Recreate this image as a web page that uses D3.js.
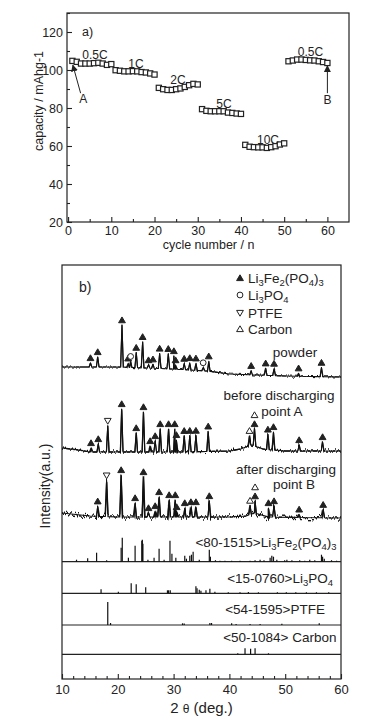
<!DOCTYPE html>
<html>
<head>
<meta charset="utf-8">
<script src="https://cdn.jsdelivr.net/npm/d3@7"></script>
<style>
  body { margin: 0; background: #fff; }
  svg { display: block; font-family: "Liberation Sans", Arial, sans-serif; }
</style>
</head>
<body>
<svg id="fig" width="377" height="726"></svg>
<script>
// ---- panel a) rate capability, capacity per cycle ----
const rateLabels = ['0.5C', '1C', '2C', '5C', '10C', '0.5C'];
const cap05a = [104.8, 104.3, 103.4, 103.4, 103.4, 103.6, 103.8, 103.4, 102.7, 103.1];
const cap1 = [99.9, 99.6, 99.3, 99.3, 99.4, 99.3, 98.9, 98.7, 98.2, 97.6];
const cap2 = [90.6, 89.9, 89.5, 89.5, 89.9, 90.3, 91.1, 92.0, 92.7, 92.4];
const cap5 = [79.4, 78.5, 78.3, 78.3, 78.3, 78.3, 77.6, 77.4, 77.1, 76.9];
const cap10 = [60.6, 59.6, 59.4, 59.3, 59.3, 59.0, 59.4, 59.9, 60.8, 61.4];
const cap05b = [104.6, 105.0, 105.5, 105.5, 105.3, 105.1, 105.0, 104.6, 104.2, 103.7];
const xTicksA = [0, 10, 20, 30, 40, 50, 60];
const yTicksA = [20, 40, 60, 80, 100, 120];

// ---- panel b) XRD ----
// baselines [2theta, intensity a.u.], peaks [2theta, height above baseline, marker]
// marker: T filled up-triangle, C circle, D open down-triangle, U open up-triangle, TU stacked
const powderBase = [[10, 312], [20, 312], [30, 310], [36, 308], [40, 305], [50, 303], [60, 302]];
const powderPeaks = [
  [15.1, 4, 'T'], [16.4, 10, 'T'], [20.75, 42, 'T'], [21.85, 4, 'T'], [22.3, 6, 'C'],
  [23.3, 15, 'T'], [24.45, 26, 'T'], [25.5, 3, 'T'], [26.3, 4, 'T'], [27.5, 15, 'T'],
  [29.05, 15, 'T'], [30.05, 13, 'T'], [30.35, 4, 'T'], [31.9, 6, 'T'], [32.9, 7, 'T'],
  [34.0, 7, 'T'], [35.3, 3, 'C'], [36.3, 10, 'T'], [43.9, 4, 'T'], [46.5, 7, 'T'],
  [48.0, 7, 'T'], [52.4, 3, 'T'], [56.5, 9, 'T']
];
const pointABase = [[10, 231], [13, 229], [15, 227], [20, 227], [30, 227], [40, 228], [42, 230], [44, 234], [46, 230], [50, 228], [60, 228]];
const pointAPeaks = [
  [15.2, 4, 'T'], [16.5, 8, 'T'], [18.2, 26, 'D'], [20.7, 43, 'T'], [23.3, 19, 'T'],
  [24.6, 40, 'T'], [25.8, 6, 'T'], [26.7, 11, 'T'], [27.6, 23, 'T'], [29.1, 23, 'T'],
  [30.2, 23, 'T'], [30.5, 12, 'T'], [31.9, 16, 'T'], [32.9, 16, 'T'], [34.0, 16, 'T'],
  [36.2, 20, 'T'], [43.6, 10, 'U'], [44.5, 17, 'TU'], [46.9, 15, 'T'], [47.9, 18, 'T'],
  [52.5, 6, 'T'], [56.7, 9, 'T']
];
const pointBBase = [[10, 166], [15, 163], [20, 162], [30, 162], [40, 162], [43, 163], [44.5, 166], [47, 162], [60, 161]];
const pointBPeaks = [
  [16.4, 10, 'T'], [18.0, 36, 'D'], [20.6, 42, 'T'], [23.1, 14, 'T'], [24.6, 40, 'T'],
  [25.5, 4, 'T'], [26.7, 6, 'T'], [27.4, 20, 'T'], [29.2, 17, 'T'], [30.3, 17, 'T'],
  [30.55, 5, 'T'], [32.0, 9, 'T'], [33.1, 10, 'T'], [34.0, 10, 'T'], [36.4, 16, 'T'],
  [43.7, 9, 'U'], [44.6, 12, 'TU'], [47.0, 9, 'T'], [48.0, 11, 'T'], [52.5, 3, 'T'],
  [56.8, 8, 'T']
];
// reference patterns [2theta, stick height]
const refLFP = [
  [12.6, 2], [14.6, 3.5], [16.2, 9], [18.0, 1.5], [20.6, 14], [20.8, 24], [21.9, 4], [23.1, 16],
  [24.3, 21], [24.4, 22], [24.5, 18], [25.4, 2], [26.5, 4], [27.4, 13], [28.3, 2], [29.35, 21],
  [29.7, 8], [30.4, 4], [32.0, 6], [32.3, 3], [32.9, 6], [33.2, 7], [33.5, 10], [34.6, 2],
  [36.4, 12], [36.6, 5], [37.5, 1.5], [38.3, 1], [39.2, 1], [40.4, 1], [41.9, 1], [43.7, 1],
  [44.6, 1.5], [45.5, 2], [46.2, 1.5], [47.3, 4], [47.6, 6], [47.9, 5], [48.5, 2], [49.9, 1.5],
  [50.3, 2], [51.2, 1.5], [52.6, 1.5], [53.5, 1], [54.4, 2], [55.3, 1.5], [56.5, 7], [56.7, 5],
  [57.0, 3], [58.3, 1.5], [59.2, 1]
];
const refLi3PO4 = [
  [17.0, 4], [20.1, 1.5], [22.4, 10], [23.3, 9], [25.0, 6], [28.9, 3], [29.1, 3], [29.4, 3],
  [34.0, 7], [34.2, 5], [34.6, 3.5], [34.9, 2.5], [35.8, 3], [36.5, 4.5], [37.4, 1.5], [39.8, 1],
  [41.9, 1], [43.4, 1.3], [45.2, 1], [48.6, 1], [50.2, 1], [51.9, 1], [53.8, 1], [55.6, 1], [57.8, 1]
];
const refPTFE = [
  [18.2, 23], [18.7, 2], [31.6, 1.7], [31.9, 1.5], [36.5, 2], [36.8, 2], [40.4, 1.7], [41.2, 1],
  [43.7, 1], [45.5, 1], [49.4, 1.2], [56.1, 1.7]
];
const refCarbon = [[41.5, 1], [42.8, 6], [43.8, 5.5], [44.6, 6], [47.0, 1]];
// stick baselines (a.u.) of the stacked reference panels
const refOffsets = [117.3, 85.7, 54, 24.7];
const xTicksB = [10, 20, 30, 40, 50, 60];

const svg = d3.select('#fig');
const ink = '#222';

// ================= panel a =================
const xA = d3.scaleLinear().domain([-0.25, 65]).range([67, 349]);
const yA = d3.scaleLinear().domain([20, 130]).range([222, 13]);
const gA = svg.append('g');

gA.append('rect')
  .attr('x', 67).attr('y', 13).attr('width', 282).attr('height', 209)
  .attr('fill', 'none').attr('stroke', ink).attr('stroke-width', 1.2);

gA.append('g').attr('transform', 'translate(0,222)')
  .call(d3.axisBottom(xA).tickValues(xTicksA).tickSizeInner(-5).tickSizeOuter(0).tickPadding(4));
gA.append('g').attr('transform', 'translate(0,222)')
  .call(d3.axisBottom(xA).tickValues([5, 15, 25, 35, 45, 55]).tickSizeInner(-3).tickSizeOuter(0).tickFormat(''));
gA.append('g').attr('transform', 'translate(67,0)')
  .call(d3.axisLeft(yA).tickValues(yTicksA).tickSizeInner(-5).tickSizeOuter(0).tickPadding(4));
gA.append('g').attr('transform', 'translate(67,0)')
  .call(d3.axisLeft(yA).tickValues([30, 50, 70, 90, 110, 130]).tickSizeInner(-3).tickSizeOuter(0).tickFormat(''));
gA.selectAll('.domain').remove();
gA.selectAll('.tick line').attr('stroke', ink).attr('stroke-width', 1.1);
gA.selectAll('.tick text').attr('font-size', 12.5).attr('fill', ink).attr('font-family', null);

gA.append('text').attr('x', xA(32.5)).attr('y', 249)
  .attr('text-anchor', 'middle').attr('font-size', 12.5).attr('fill', ink)
  .text('cycle number / n');
gA.append('text').attr('transform', 'translate(43,101) rotate(-90)')
  .attr('text-anchor', 'middle').attr('font-size', 12.5).attr('fill', ink)
  .text('capacity / mAhg-1');
gA.append('text').attr('x', 82).attr('y', 36).attr('font-size', 12.5).attr('fill', ink).text('a)');

const groups = [cap05a, cap1, cap2, cap5, cap10, cap05b];
const capData = [];
groups.forEach((g, gi) => g.forEach((v, i) => capData.push({ n: gi * 10 + i + 1, v })));

gA.selectAll('rect.pt')
  .data(capData)
  .enter()
  .append('rect')
  .attr('class', 'pt')
  .attr('x', d => xA(d.n) - 2.6)
  .attr('y', d => yA(d.v) - 2.6)
  .attr('width', 5.2).attr('height', 5.2)
  .attr('fill', '#fff').attr('stroke', ink).attr('stroke-width', 1.2);

// rate labels sit above each group of ten cycles
const labelPos = [[95, 59], [136, 68], [178, 83.5], [224, 107.5], [268, 143.5], [310.5, 56]];
rateLabels.forEach((t, i) => {
  gA.append('text').attr('x', labelPos[i][0]).attr('y', labelPos[i][1])
    .attr('text-anchor', 'middle').attr('font-size', 12).attr('fill', ink).text(t);
});

// arrows A and B
const defs = svg.append('defs');
defs.append('marker').attr('id', 'ah').attr('viewBox', '0 0 10 10')
  .attr('refX', 9).attr('refY', 5).attr('markerWidth', 7).attr('markerHeight', 7)
  .attr('orient', 'auto').attr('markerUnits', 'userSpaceOnUse')
  .append('path').attr('d', 'M0,0 L10,5 L0,10 z').attr('fill', ink);

gA.append('line')
  .attr('x1', xA(2.9)).attr('y1', yA(87.8)).attr('x2', xA(1.1)).attr('y2', yA(102.6))
  .attr('stroke', ink).attr('stroke-width', 1).attr('marker-end', 'url(#ah)');
gA.append('text').attr('x', 83.3).attr('y', 102.5).attr('text-anchor', 'middle')
  .attr('font-size', 12).attr('fill', ink).text('A');
gA.append('line')
  .attr('x1', xA(60)).attr('y1', yA(87.8)).attr('x2', xA(60)).attr('y2', yA(102.3))
  .attr('stroke', ink).attr('stroke-width', 1).attr('marker-end', 'url(#ah)');
gA.append('text').attr('x', xA(60)).attr('y', 104).attr('text-anchor', 'middle')
  .attr('font-size', 12).attr('fill', ink).text('B');

// ================= panel b =================
const xB = d3.scaleLinear().domain([10, 60]).range([62, 341]);
const yB = d3.scaleLinear().domain([0, 414]).range([679, 265]);
const gB = svg.append('g');

// vertical-only jitter so the measured patterns look noisy like the scan
const addNoise = (id, scale) => {
  const f = defs.append('filter').attr('id', id)
    .attr('x', '-2%').attr('y', '-30%').attr('width', '104%').attr('height', '160%')
    .attr('color-interpolation-filters', 'sRGB');
  f.append('feTurbulence').attr('type', 'fractalNoise').attr('baseFrequency', '0.6 0.02')
    .attr('numOctaves', 2).attr('seed', 7).attr('result', 'n');
  f.append('feColorMatrix').attr('in', 'n').attr('type', 'matrix')
    .attr('values', '0 0 0 0 0.5  0 1 0 0 0  0 0 0 0 0  0 0 0 0 1').attr('result', 'n2');
  f.append('feDisplacementMap').attr('in', 'SourceGraphic').attr('in2', 'n2')
    .attr('scale', scale).attr('xChannelSelector', 'R').attr('yChannelSelector', 'G');
};
addNoise('nz1', 5);
addNoise('nz2', 7);
addNoise('nz3', 11);

gB.append('rect')
  .attr('x', 62).attr('y', 265).attr('width', 279).attr('height', 414)
  .attr('fill', 'none').attr('stroke', ink).attr('stroke-width', 1.2);

refOffsets.forEach(o => {
  gB.append('line').attr('x1', 62).attr('x2', 341).attr('y1', yB(o)).attr('y2', yB(o))
    .attr('stroke', ink).attr('stroke-width', 1.2);
});

gB.append('g').attr('transform', 'translate(0,679)')
  .call(d3.axisBottom(xB).tickValues(xTicksB).tickSizeInner(-5).tickSizeOuter(0).tickPadding(6));
gB.append('g').attr('transform', 'translate(0,679)')
  .call(d3.axisBottom(xB).tickValues([12, 14, 16, 18, 22, 24, 26, 28, 32, 34, 36, 38, 42, 44, 46, 48, 52, 54, 56, 58])
    .tickSizeInner(-3).tickSizeOuter(0).tickFormat(''));
gB.selectAll('.domain').remove();
gB.selectAll('.tick line').attr('stroke', ink).attr('stroke-width', 1.1);
gB.selectAll('.tick text').attr('font-size', 13).attr('fill', ink).attr('font-family', null);

const xl = gB.append('text').attr('x', xB(35)).attr('y', 713).attr('text-anchor', 'middle')
  .attr('font-size', 15).attr('fill', ink);
xl.append('tspan').text('2 ');
xl.append('tspan').attr('font-size', 12).text('θ');
xl.append('tspan').text(' (deg.)');

gB.append('text').attr('transform', 'translate(50,486) rotate(-90)')
  .attr('text-anchor', 'middle').attr('font-size', 14).attr('fill', ink)
  .text('Intensity(a.u.)');

// measured patterns
const line = d3.line().x(d => xB(d[0])).y(d => yB(d[1]));
const hw = 0.24;
function traceGeom(base, peaks) {
  const b = d3.scaleLinear().domain(base.map(d => d[0])).range(base.map(d => d[1]));
  const pts = base.map(d => [d[0], d[1]]);
  const tops = [];
  peaks.forEach(p => {
    const top = b(p[0]) + p[1];
    pts.push([p[0] - hw, b(p[0] - hw)], [p[0], top], [p[0] + hw, b(p[0] + hw)]);
    tops.push({ x: p[0], top, m: p[2] });
  });
  pts.sort((a, c) => a[0] - c[0]);
  return { pts, tops };
}

const traces = [
  { base: powderBase, peaks: powderPeaks, filter: 'nz1', w: 1.1 },
  { base: pointABase, peaks: pointAPeaks, filter: 'nz2', w: 1.3 },
  { base: pointBBase, peaks: pointBPeaks, filter: 'nz3', w: 1.5 }
];

function drawSymbol(g, kind, cx, cy) {
  if (kind === 'T' || kind === 'U') {
    g.append('path').attr('d', `M${cx - 3.4},${cy + 2.6} L${cx + 3.4},${cy + 2.6} L${cx},${cy - 3.2} Z`)
      .attr('fill', kind === 'T' ? ink : '#fff').attr('stroke', ink).attr('stroke-width', 1);
  } else if (kind === 'D') {
    g.append('path').attr('d', `M${cx - 3.4},${cy - 2.6} L${cx + 3.4},${cy - 2.6} L${cx},${cy + 3.2} Z`)
      .attr('fill', '#fff').attr('stroke', ink).attr('stroke-width', 1);
  } else if (kind === 'C') {
    g.append('circle').attr('cx', cx).attr('cy', cy).attr('r', 2.9)
      .attr('fill', '#fff').attr('stroke', ink).attr('stroke-width', 1);
  }
}

traces.forEach(t => {
  const geo = traceGeom(t.base, t.peaks);
  // continuous pattern underneath, jittered copy on top for the noise
  gB.append('path').datum(geo.pts)
    .attr('d', line)
    .attr('fill', 'none').attr('stroke', '#111').attr('stroke-width', 1.1)
    .attr('stroke-linejoin', 'round');
  gB.append('path').datum(geo.pts)
    .attr('d', line)
    .attr('fill', 'none').attr('stroke', '#111').attr('stroke-width', t.w)
    .attr('stroke-linejoin', 'round')
    .attr('filter', `url(#${t.filter})`);
  const mg = gB.append('g');
  geo.tops.forEach(p => {
    const cx = xB(p.x);
    const cy = yB(p.top) - 5;
    if (p.m === 'TU') {
      drawSymbol(mg, 'T', cx, cy);
      drawSymbol(mg, 'U', cx, cy - 9);
    } else {
      drawSymbol(mg, p.m, cx, cy);
    }
  });
});

// reference sticks
[refLFP, refLi3PO4, refPTFE, refCarbon].forEach((ref, i) => {
  gB.selectAll(null)
    .data(ref)
    .enter()
    .append('line')
    .attr('x1', d => xB(d[0])).attr('x2', d => xB(d[0]))
    .attr('y1', yB(refOffsets[i])).attr('y2', d => yB(refOffsets[i] + d[1]))
    .attr('stroke', '#111').attr('stroke-width', 1.2);
});

// rich text with subscripts
function richText(x, y, parts, size, anchor) {
  const t = gB.append('text').attr('x', x).attr('y', y).attr('font-size', size)
    .attr('fill', ink).attr('text-anchor', anchor || 'start');
  let shifted = false;
  parts.forEach(p => {
    const sub = typeof p !== 'string';
    const s = t.append('tspan').text(sub ? p[0] : p);
    if (sub && !shifted) { s.attr('dy', size * 0.25).attr('font-size', size * 0.7); shifted = true; }
    else if (sub) { s.attr('font-size', size * 0.7); }
    else if (shifted) { s.attr('dy', -size * 0.25); shifted = false; }
  });
  return t;
}
const lfpName = ['Li', ['3'], 'Fe', ['2'], '(PO', ['4'], ')', ['3']];
const lpName = ['Li', ['3'], 'PO', ['4']];

gB.append('text').attr('x', 79).attr('y', 292).attr('font-size', 14).attr('fill', ink).text('b)');

// legend
const legendRows = [['T', lfpName], ['C', lpName], ['D', ['PTFE']], ['U', ['Carbon']]];
const legendY = [278, 295, 313, 329];
legendRows.forEach((r, i) => {
  drawSymbol(gB, r[0], 240, legendY[i]);
  richText(248, legendY[i] + 5, r[1], 13.5);
});

// trace labels
const tl = (x, y, s) => gB.append('text').attr('x', x).attr('y', y).attr('text-anchor', 'middle')
  .attr('font-size', 13.5).attr('fill', ink).text(s);
tl(295, 357, 'powder');
tl(279, 400, 'before discharging');
tl(282, 416, 'point A');
tl(286, 474, 'after discharging');
tl(294, 489, 'point B');

richText(336.5, 547, ['<80-1515>Li', ['3'], 'Fe', ['2'], '(PO', ['4'], ')', ['3']], 13.5, 'end');
richText(333, 583, ['<15-0760>Li', ['3'], 'PO', ['4']], 13.5, 'end');
richText(325, 614, ['<54-1595>PTFE'], 13.5, 'end');
richText(336.5, 642, ['<50-1084> Carbon'], 13.5, 'end');
</script>
</body>
</html>
